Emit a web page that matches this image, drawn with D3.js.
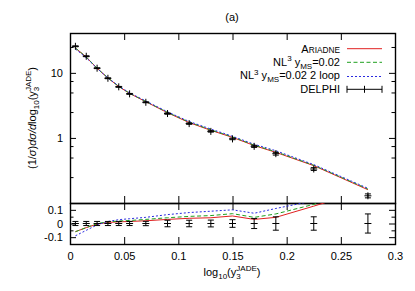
<!DOCTYPE html>
<html><head><meta charset="utf-8">
<script src="https://cdn.jsdelivr.net/npm/d3@7"></script>
<style>
body{margin:0;background:#fff}
text{font-family:"Liberation Sans",Arial,Helvetica,sans-serif;fill:#000}
</style>
</head><body><svg id="c" width="415" height="291"></svg>
<script>
// ---------------- data ----------------
const binCenters = [0.005,0.015,0.025,0.035,0.045,0.055,0.07,0.09,0.11,0.13,0.15,0.17,0.19,0.225,0.275];
const delphi     = [25.6,18.0,11.8,8.26,6.1,4.76,3.53,2.37,1.66,1.26,0.966,0.743,0.573,0.333,0.129];
const delphiRelErr = [0.015,0.015,0.015,0.015,0.015,0.015,0.016,0.024,0.024,0.025,0.028,0.037,0.049,0.049,0.07];

const ariadne  = [24.1,17.5,11.74,8.33,6.17,4.83,3.60,2.44,1.72,1.31,1.02,0.765,0.60,0.375,0.16];
const nl3      = [24.1,17.5,11.8,8.36,6.21,4.86,3.64,2.47,1.75,1.33,1.036,0.776,0.613,0.38,0.164];
const nl3loop  = [23.3,17.1,11.7,8.38,6.27,4.93,3.69,2.52,1.79,1.37,1.06,0.80,0.636,0.389,0.168];

const ariadneRatio = [-0.06,-0.03,-0.005,0.008,0.012,0.015,0.02,0.03,0.038,0.042,0.055,0.03,0.045,0.127,0.25];
const nl3Ratio     = [-0.06,-0.03,0.0,0.012,0.018,0.022,0.03,0.042,0.052,0.058,0.072,0.045,0.07,0.14,0.27];
const nl3loopRatio = [-0.09,-0.05,-0.01,0.015,0.028,0.035,0.045,0.065,0.08,0.09,0.1,0.075,0.11,0.166,0.3];

const xTickValues = [0,0.05,0.1,0.15,0.2,0.25,0.3];
const xTickLabels = ["0","0.05","0.1","0.15","0.2","0.25","0.3"];
const yMainTickValues = [1,10];
const yMainTickLabels = ["1","10"];
const yMainMinorTicks = [0.25,0.5,0.75,2.5,5,7.5,25];
const yRatioTickValues = [-0.1,0,0.1];
const yRatioTickLabels = ["-0.1","0","0.1"];
const yRatioMinorTicks = [-0.05,0.05];
const seriesColors = ["#e02020","#20a020","#2a2ae0"];
const seriesDash   = [null,"4,2.5","2,2"];

// ---------------- layout ----------------
const svg = d3.select("#c");
const FONT = 11;
const x = d3.scaleLinear().domain([0,0.3]).range([70,395]);
const yMain = d3.scaleLog().domain([0.1,41]).range([203,33]);
const yRatio = d3.scaleLinear().domain([-0.15,0.15]).range([244,203]);

const defs = svg.append("defs");
defs.append("clipPath").attr("id","clipMain").append("rect")
  .attr("x",x(0)).attr("y",yMain(41)).attr("width",x(0.3)-x(0)).attr("height",yMain(0.1)-yMain(41));
defs.append("clipPath").attr("id","clipRatio").append("rect")
  .attr("x",x(0)).attr("y",yRatio(0.15)).attr("width",x(0.3)-x(0)).attr("height",yRatio(-0.15)-yRatio(0.15));

function tidy(g){
  g.select(".domain").remove();
  g.selectAll("line").attr("stroke","#000").attr("stroke-width",1);
  g.selectAll("text").attr("font-size",FONT).attr("fill","#000")
   .attr("font-family","'Liberation Sans',Arial,Helvetica,sans-serif");
}

// x ticks
svg.append("g").attr("transform",`translate(0,${yMain(41)})`)
  .call(d3.axisTop(x).tickValues(xTickValues).tickSize(-7).tickFormat("")).call(tidy);
svg.append("g").attr("transform",`translate(0,${yMain(0.1)})`)
  .call(d3.axisBottom(x).tickValues(xTickValues).tickSize(-7).tickFormat("")).call(tidy);
svg.append("g").attr("transform",`translate(0,${yRatio(0.15)})`)
  .call(d3.axisTop(x).tickValues(xTickValues).tickSize(-7).tickFormat("")).call(tidy);
svg.append("g").attr("transform",`translate(0,${yRatio(-0.15)})`)
  .call(d3.axisBottom(x).tickValues(xTickValues).tickSize(-7).tickPadding(8.5)
        .tickFormat((d,i)=>xTickLabels[i])).call(tidy);

// y ticks main
svg.append("g").attr("transform",`translate(${x(0)},0)`)
  .call(d3.axisLeft(yMain).tickValues(yMainTickValues).tickSize(-6).tickPadding(7)
        .tickFormat((d,i)=>yMainTickLabels[i])).call(tidy);
svg.append("g").attr("transform",`translate(${x(0)},0)`)
  .call(d3.axisLeft(yMain).tickValues(yMainMinorTicks).tickSize(-3.5).tickFormat("")).call(tidy);
svg.append("g").attr("transform",`translate(${x(0.3)},0)`)
  .call(d3.axisRight(yMain).tickValues(yMainTickValues).tickSize(-6).tickFormat("")).call(tidy);
svg.append("g").attr("transform",`translate(${x(0.3)},0)`)
  .call(d3.axisRight(yMain).tickValues(yMainMinorTicks).tickSize(-3.5).tickFormat("")).call(tidy);

// y ticks ratio
svg.append("g").attr("transform",`translate(${x(0)},0)`)
  .call(d3.axisLeft(yRatio).tickValues(yRatioTickValues).tickSize(-6).tickPadding(7)
        .tickFormat((d,i)=>yRatioTickLabels[i])).call(tidy);
svg.append("g").attr("transform",`translate(${x(0)},0)`)
  .call(d3.axisLeft(yRatio).tickValues(yRatioMinorTicks).tickSize(-3.5).tickFormat("")).call(tidy);
svg.append("g").attr("transform",`translate(${x(0.3)},0)`)
  .call(d3.axisRight(yRatio).tickValues(yRatioTickValues).tickSize(-6).tickFormat("")).call(tidy);
svg.append("g").attr("transform",`translate(${x(0.3)},0)`)
  .call(d3.axisRight(yRatio).tickValues(yRatioMinorTicks).tickSize(-3.5).tickFormat("")).call(tidy);

// frames
svg.append("rect").attr("x",x(0)+0.5).attr("y",yMain(41)+0.5)
  .attr("width",x(0.3)-x(0)).attr("height",yMain(0.1)-yMain(41))
  .attr("fill","none").attr("stroke","#000").attr("stroke-width",1.4);
svg.append("rect").attr("x",x(0)+0.5).attr("y",yRatio(0.15)+0.5)
  .attr("width",x(0.3)-x(0)).attr("height",yRatio(-0.15)-yRatio(0.15))
  .attr("fill","none").attr("stroke","#000").attr("stroke-width",1.4);

// curves
const mainSeries = [ariadne,nl3,nl3loop];
const ratioSeries = [ariadneRatio,nl3Ratio,nl3loopRatio];
const lineMain = d3.line().x(d=>x(d[0])).y(d=>yMain(d[1]));
const lineRatio = d3.line().x(d=>x(d[0])).y(d=>yRatio(d[1]));
const gMain = svg.append("g").attr("clip-path","url(#clipMain)");
const gRatio = svg.append("g").attr("clip-path","url(#clipRatio)");
mainSeries.forEach((s,k)=>{
  gMain.append("path").datum(binCenters.map((c,i)=>[c,s[i]]))
    .attr("d",lineMain).attr("fill","none").attr("stroke",seriesColors[k])
    .attr("stroke-width",1).attr("stroke-dasharray",seriesDash[k]);
});
ratioSeries.forEach((s,k)=>{
  gRatio.append("path").datum(binCenters.map((c,i)=>[c,s[i]]))
    .attr("d",lineRatio).attr("fill","none").attr("stroke",seriesColors[k])
    .attr("stroke-width",1).attr("stroke-dasharray",seriesDash[k]);
});

// data points
const CAP = 3, ARM = 3.5;
const gPts = svg.append("g").attr("stroke","#000").attr("stroke-width",1);
binCenters.forEach((c,i)=>{
  const px = x(c);
  // main panel
  const v = delphi[i], e = delphiRelErr[i];
  const y0 = yMain(v*(1-e)), y1 = yMain(v*(1+e)), yv = yMain(v);
  gPts.append("line").attr("x1",px).attr("x2",px).attr("y1",y0).attr("y2",y1);
  gPts.append("line").attr("x1",px-CAP).attr("x2",px+CAP).attr("y1",y0).attr("y2",y0);
  gPts.append("line").attr("x1",px-CAP).attr("x2",px+CAP).attr("y1",y1).attr("y2",y1);
  gPts.append("line").attr("x1",px-ARM).attr("x2",px+ARM).attr("y1",yv).attr("y2",yv);
  gPts.append("line").attr("x1",px).attr("x2",px).attr("y1",yv-ARM).attr("y2",yv+ARM);
  // ratio panel
  const r0 = yRatio(-e), r1 = yRatio(e), rv = yRatio(0);
  gPts.append("line").attr("x1",px).attr("x2",px).attr("y1",r0).attr("y2",r1);
  gPts.append("line").attr("x1",px-CAP).attr("x2",px+CAP).attr("y1",r0).attr("y2",r0);
  gPts.append("line").attr("x1",px-CAP).attr("x2",px+CAP).attr("y1",r1).attr("y2",r1);
  gPts.append("line").attr("x1",px-ARM).attr("x2",px+ARM).attr("y1",rv).attr("y2",rv);
});

// legend
const lgTextX = 340, lgX1 = 347, lgX2 = 382;
const rows = [52.5, 65.8, 79.3, 93];
const lines = [48.7, 62.3, 76.5, 89.3];
function rich(t, parts){
  parts.forEach(p=>{
    const ts = t.append("tspan").text(p.t).attr("font-size",p.s||FONT);
    if(p.dy) ts.attr("dy",p.dy);
    if(p.dx) ts.attr("dx",p.dx);
    if(p.i) ts.attr("font-style","italic");
  });
}
const lg = svg.append("g");
let t = lg.append("text").attr("x",lgTextX).attr("y",rows[0]).attr("text-anchor","end");
rich(t,[{t:"A"},{t:"RIADNE",s:8.3}]);
t = lg.append("text").attr("x",lgTextX).attr("y",rows[1]).attr("text-anchor","end");
rich(t,[{t:"NL"},{t:"3",s:8,dy:-4.5},{t:" y",dy:4.5},{t:"MS",s:8,dy:2.8},{t:"=0.02",dy:-2.8}]);
t = lg.append("text").attr("x",lgTextX).attr("y",rows[2]).attr("text-anchor","end");
rich(t,[{t:"NL"},{t:"3",s:8,dy:-4.5},{t:" y",dy:4.5},{t:"MS",s:8,dy:2.8},{t:"=0.02 2 loop",dy:-2.8}]);
t = lg.append("text").attr("x",lgTextX).attr("y",rows[3]).attr("text-anchor","end").text("DELPHI")
  .attr("font-size",FONT);
[0,1,2].forEach(k=>{
  lg.append("line").attr("x1",lgX1).attr("x2",lgX2).attr("y1",lines[k]).attr("y2",lines[k])
    .attr("stroke",seriesColors[k]).attr("stroke-width",1).attr("stroke-dasharray",seriesDash[k]);
});
lg.append("line").attr("x1",lgX1).attr("x2",lgX2).attr("y1",lines[3]).attr("y2",lines[3]).attr("stroke","#000");
[lgX1,(lgX1+lgX2)/2,lgX2].forEach(xx=>{
  lg.append("line").attr("x1",xx).attr("x2",xx).attr("y1",lines[3]-3.5).attr("y2",lines[3]+3.5).attr("stroke","#000");
});

// title
svg.append("text").attr("x",232).attr("y",20.5).attr("text-anchor","middle").attr("font-size",FONT).text("(a)");

// x label
t = svg.append("text").attr("x",232).attr("y",276).attr("text-anchor","middle").attr("font-size",FONT);
rich(t,[{t:"log"},{t:"10",s:8,dy:3},{t:"(y",dy:-3},{t:"3",s:8,dy:3},{t:"JADE",s:8,dy:-8,dx:-4.4},{t:")",dy:5}]);

// y label
t = svg.append("text").attr("transform","translate(36,118) rotate(-90)").attr("text-anchor","middle").attr("font-size",FONT);
rich(t,[{t:"(1/"},{t:"σ",i:true},{t:")"},{t:"dσ/d",i:true},{t:"log"},{t:"10",s:8,dy:3},{t:"(y",dy:-3},{t:"3",s:8,dy:3},{t:"JADE",s:8,dy:-8,dx:-4.4},{t:")",dy:5}]);
</script></body></html>
